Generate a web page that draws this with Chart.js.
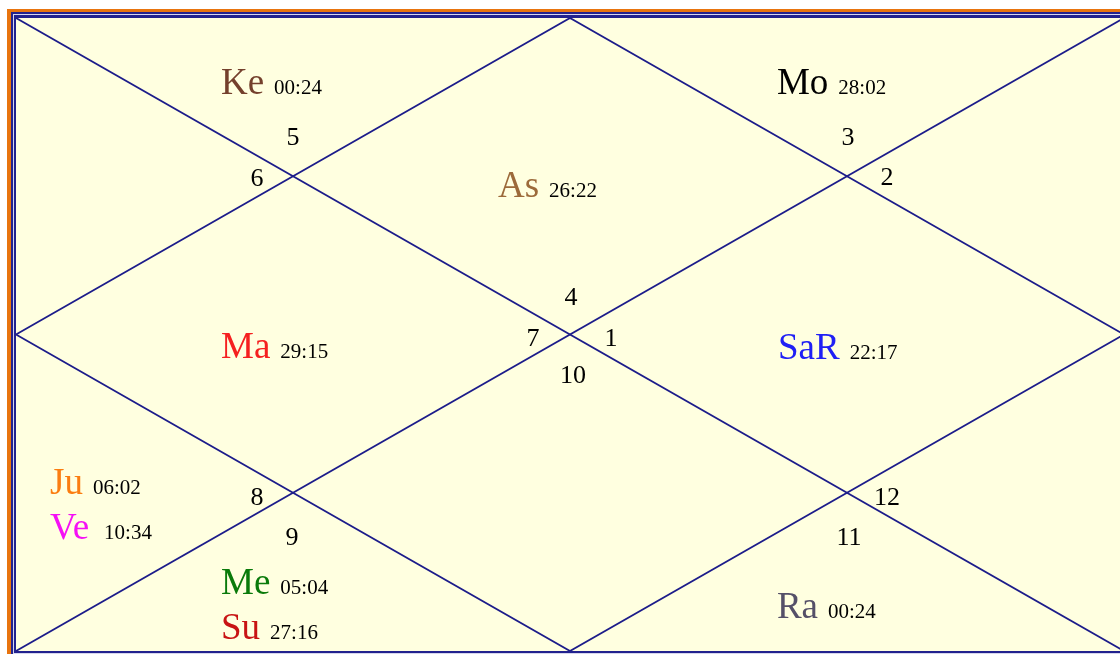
<!DOCTYPE html>
<html>
<head>
<meta charset="utf-8">
<script src="https://cdn.jsdelivr.net/npm/chart.js@4"></script>
<style>
  html, body { margin: 0; padding: 0; background: #ffffff; overflow: hidden; }
  #wrap { position: absolute; left: 0; top: 0; width: 1140px; height: 672px; }
</style>
</head>
<body>
<div id="wrap"><canvas id="chart" width="1140" height="672"></canvas></div>
<script>
// Data ------------------------------------------------------------
const planets  = ['Ke', 'Mo', 'As', 'Ma', 'SaR', 'Ju', 'Ve', 'Me', 'Su', 'Ra']
const degrees  = ['00:24', '28:02', '26:22', '29:15', '22:17', '06:02', '10:34', '05:04', '27:16', '00:24']
const houses   = [5, 3, 4, 7, 1, 8, 8, 9, 9, 11]
const colors   = ['#74402c', '#000000', '#9c6a3a', '#f52020', '#2020f5', '#fb7d10', '#f510f5', '#0a7a0a', '#c81414', '#555068']
const houseNumbers = [1, 2, 3, 4, 5, 6, 7, 8, 9, 10, 11, 12]

// Layout (chart units, square 0..4) ------------------------------
const planetPos = [
    [0.740, 0.481], [2.747, 0.481], [1.740, 1.133], [0.740, 2.146], [2.751, 2.152],
    [0.123, 3.006], [0.123, 3.291], [0.740, 3.639], [0.740, 3.922], [2.747, 3.791]
]
const degreeGap = [10, 10, 10, 10, 10, 10, 15, 10, 10, 10]
const housePos = [
    [2.148, 2.070], [3.144, 1.057], [3.004, 0.804], [2.004, 1.816],
    [1.000, 0.804], [0.870, 1.063], [1.866, 2.070], [0.870, 3.076],
    [0.996, 3.329], [2.011, 2.304], [3.007, 3.329], [3.144, 3.076]
]

// chart lines: the two diagonals and the inner diamond
const diag1 = [{ x: 0, y: 0 }, { x: 4, y: 4 }]
const diag2 = [{ x: 4, y: 0 }, { x: 0, y: 4 }]
const diamond = [{ x: 2, y: 0 }, { x: 0, y: 2 }, { x: 2, y: 4 }, { x: 4, y: 2 }, { x: 2, y: 0 }]

const lineColor = '#1c1c8a'

// Plugins ---------------------------------------------------------
const framePlugin = {
    id: 'frame',
    beforeDraw(chart) {
        const ctx = chart.ctx
        const a = chart.chartArea
        ctx.save()
        ctx.fillStyle = '#ffffff'
        ctx.fillRect(0, 0, chart.width, chart.height)
        // orange outer band
        ctx.fillStyle = '#e8740e'
        ctx.fillRect(a.left - 9, a.top - 9, a.width + 18, a.height + 18)
        // double blue line
        ctx.fillStyle = '#22228e'
        ctx.fillRect(a.left - 5, a.top - 6, a.width + 10, a.height + 12)
        ctx.fillStyle = '#d6d6ee'
        ctx.fillRect(a.left - 3, a.top - 4, a.width + 6, a.height + 8)
        ctx.fillStyle = '#22228e'
        ctx.fillRect(a.left - 2, a.top - 3, a.width + 4, a.height + 5)
        // paper
        ctx.fillStyle = '#ffffe0'
        ctx.fillRect(a.left, a.top, a.width, a.height)
        ctx.restore()
    }
}

const labelPlugin = {
    id: 'labels',
    afterDatasetsDraw(chart) {
        const ctx = chart.ctx
        const sx = chart.scales.x
        const sy = chart.scales.y
        ctx.save()
        ctx.textBaseline = 'alphabetic'

        // house numbers
        ctx.textAlign = 'center'
        ctx.fillStyle = '#000000'
        ctx.font = '26px "Liberation Serif", "Times New Roman", serif'
        houseNumbers.forEach((n, i) => {
            ctx.fillText(String(n), sx.getPixelForValue(housePos[i][0]), sy.getPixelForValue(housePos[i][1]))
        })

        // planets with degrees
        ctx.textAlign = 'left'
        planets.forEach((p, i) => {
            const x = sx.getPixelForValue(planetPos[i][0])
            const y = sy.getPixelForValue(planetPos[i][1])
            ctx.font = '37px "Liberation Serif", "Times New Roman", serif'
            ctx.fillStyle = colors[i]
            ctx.fillText(p, x, y)
            const w = ctx.measureText(p).width
            ctx.font = '21px "Liberation Serif", "Times New Roman", serif'
            ctx.fillStyle = '#000000'
            ctx.fillText(degrees[i], x + w + degreeGap[i], y)
        })
        ctx.restore()
    }
}

// Chart -----------------------------------------------------------
const lineSet = (data) => ({
    data: data,
    showLine: true,
    borderColor: lineColor,
    borderWidth: 1.8,
    pointRadius: 0,
    fill: false
})

const ctx = document.getElementById('chart').getContext('2d')
const chart = new Chart(ctx, {
    type: 'scatter',
    data: {
        datasets: [lineSet(diag1), lineSet(diag2), lineSet(diamond)]
    },
    options: {
        responsive: false,
        animation: false,
        devicePixelRatio: 1,
        layout: { padding: { left: 16, top: 18, right: 16, bottom: 21 } },
        plugins: { legend: { display: false }, tooltip: { enabled: false } },
        scales: {
            x: { type: 'linear', min: 0, max: 4, display: false },
            y: { type: 'linear', min: 0, max: 4, reverse: true, display: false }
        }
    },
    plugins: [framePlugin, labelPlugin]
})
</script>
</body>
</html>
